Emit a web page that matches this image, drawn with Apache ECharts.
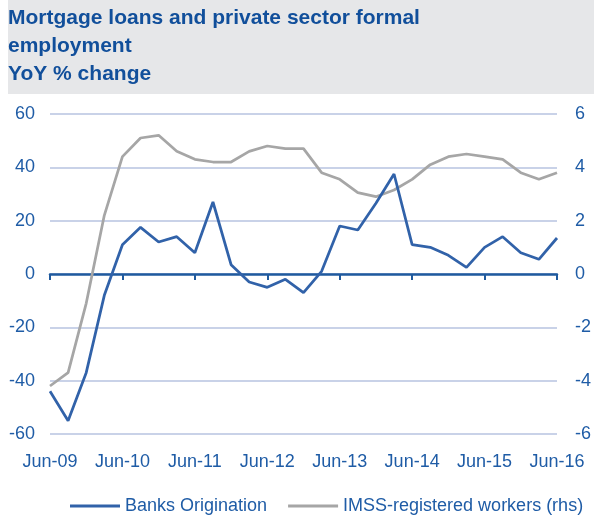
<!DOCTYPE html>
<html>
<head>
<meta charset="utf-8">
<script src="https://cdn.jsdelivr.net/npm/echarts@6/dist/echarts.min.js"></script>
<style>
  html, body { margin: 0; padding: 0; background: #ffffff; }
  #chart { width: 594px; height: 522px; }
</style>
</head>
<body>
<div id="chart"></div>
<script>
// Quarterly observations, Jun-09 to Jun-16
const quarters = [
  'Jun-09', 'Sep-09', 'Dec-09', 'Mar-10',
  'Jun-10', 'Sep-10', 'Dec-10', 'Mar-11',
  'Jun-11', 'Sep-11', 'Dec-11', 'Mar-12',
  'Jun-12', 'Sep-12', 'Dec-12', 'Mar-13',
  'Jun-13', 'Sep-13', 'Dec-13', 'Mar-14',
  'Jun-14', 'Sep-14', 'Dec-14', 'Mar-15',
  'Jun-15', 'Sep-15', 'Dec-15', 'Mar-16',
  'Jun-16'
];

// Mortgage origination by banks, YoY % (left axis)
const banksOrigination = [
  -44, -55, -37, -8,
  11, 17.5, 12, 14,
  8, 27, 3.5, -3,
  -5, -2, -7, 1,
  18, 16.5, 26.5, 37.5,
  11, 10, 7, 2.5,
  10, 14, 8, 5.5,
  13.5
];

// IMSS-registered workers, YoY % (right axis)
const imssWorkers = [
  -4.2, -3.7, -1.1, 2.2,
  4.4, 5.1, 5.2, 4.6,
  4.3, 4.2, 4.2, 4.6,
  4.8, 4.7, 4.7, 3.8,
  3.55, 3.05, 2.9, 3.15,
  3.55, 4.1, 4.4, 4.5,
  4.4, 4.3, 3.8, 3.55,
  3.8
];

const seriesNames = ['Banks Origination', 'IMSS-registered workers (rhs)'];

const FONT = '"Liberation Sans", Arial, Helvetica, sans-serif';
const LABEL_BLUE = '#1f5ca6';
const TITLE_BLUE = '#114f9b';
const AXIS_BLUE = '#1f5a9e';
const LINE_BLUE = '#3162a9';
const LINE_GRAY = '#a6a6a6';
const GRID_COLOR = '#b7c3e1';

const chart = echarts.init(document.getElementById('chart'), null, { renderer: 'canvas' });

chart.setOption({
  animation: false,
  backgroundColor: '#ffffff',
  graphic: [{
    type: 'rect',
    z: 0,
    shape: { x: 8, y: 0, width: 586, height: 94 },
    style: { fill: '#e6e7e9' }
  }],
  title: {
    text: 'Mortgage loans and private sector formal\nemployment\nYoY % change',
    left: 8,
    top: 4,
    padding: 0,
    z: 10,
    textStyle: {
      fontFamily: FONT,
      fontSize: 21,
      fontWeight: 'bold',
      lineHeight: 28,
      color: TITLE_BLUE
    }
  },
  legend: {
    data: seriesNames,
    left: 65,
    top: 492,
    itemWidth: 50,
    itemHeight: 3,
    itemGap: 21,
    icon: 'rect',
    textStyle: { fontFamily: FONT, fontSize: 18, color: LABEL_BLUE }
  },
  grid: { left: 50, right: 36, top: 114, bottom: 88, containLabel: false },
  xAxis: [
    {
      // zero line with yearly tick marks
      type: 'category',
      data: quarters,
      boundaryGap: false,
      position: 'bottom',
      axisLine: { onZero: true, lineStyle: { color: AXIS_BLUE, width: 2.5 } },
      axisTick: { show: true, interval: 3, length: 6, lineStyle: { color: AXIS_BLUE, width: 2 } },
      axisLabel: { show: false },
      splitLine: { show: false }
    },
    {
      // yearly labels along the bottom edge
      type: 'category',
      data: quarters,
      boundaryGap: false,
      position: 'bottom',
      axisLine: { show: false, onZero: false },
      axisTick: { show: false },
      axisLabel: {
        interval: 3,
        margin: 19,
        fontFamily: FONT,
        fontSize: 18,
        color: LABEL_BLUE
      },
      splitLine: { show: false }
    }
  ],
  yAxis: [
    {
      type: 'value',
      min: -60,
      max: 60,
      interval: 20,
      position: 'left',
      axisLine: { show: false },
      axisTick: { show: false },
      axisLabel: { margin: 15, fontFamily: FONT, fontSize: 18, color: LABEL_BLUE },
      splitLine: { show: true, lineStyle: { color: GRID_COLOR, width: 1.5 } }
    },
    {
      type: 'value',
      min: -6,
      max: 6,
      interval: 2,
      position: 'right',
      axisLine: { show: false },
      axisTick: { show: false },
      axisLabel: { margin: 18, fontFamily: FONT, fontSize: 18, color: LABEL_BLUE },
      splitLine: { show: false }
    }
  ],
  series: [
    {
      name: seriesNames[0],
      type: 'line',
      xAxisIndex: 0,
      yAxisIndex: 0,
      data: banksOrigination,
      showSymbol: false,
      symbol: 'none',
      lineStyle: { color: LINE_BLUE, width: 2.75 },
      itemStyle: { color: LINE_BLUE },
      z: 3
    },
    {
      name: seriesNames[1],
      type: 'line',
      xAxisIndex: 0,
      yAxisIndex: 1,
      data: imssWorkers,
      showSymbol: false,
      symbol: 'none',
      lineStyle: { color: LINE_GRAY, width: 2.75 },
      itemStyle: { color: LINE_GRAY },
      z: 2
    }
  ]
});
</script>
</body>
</html>
